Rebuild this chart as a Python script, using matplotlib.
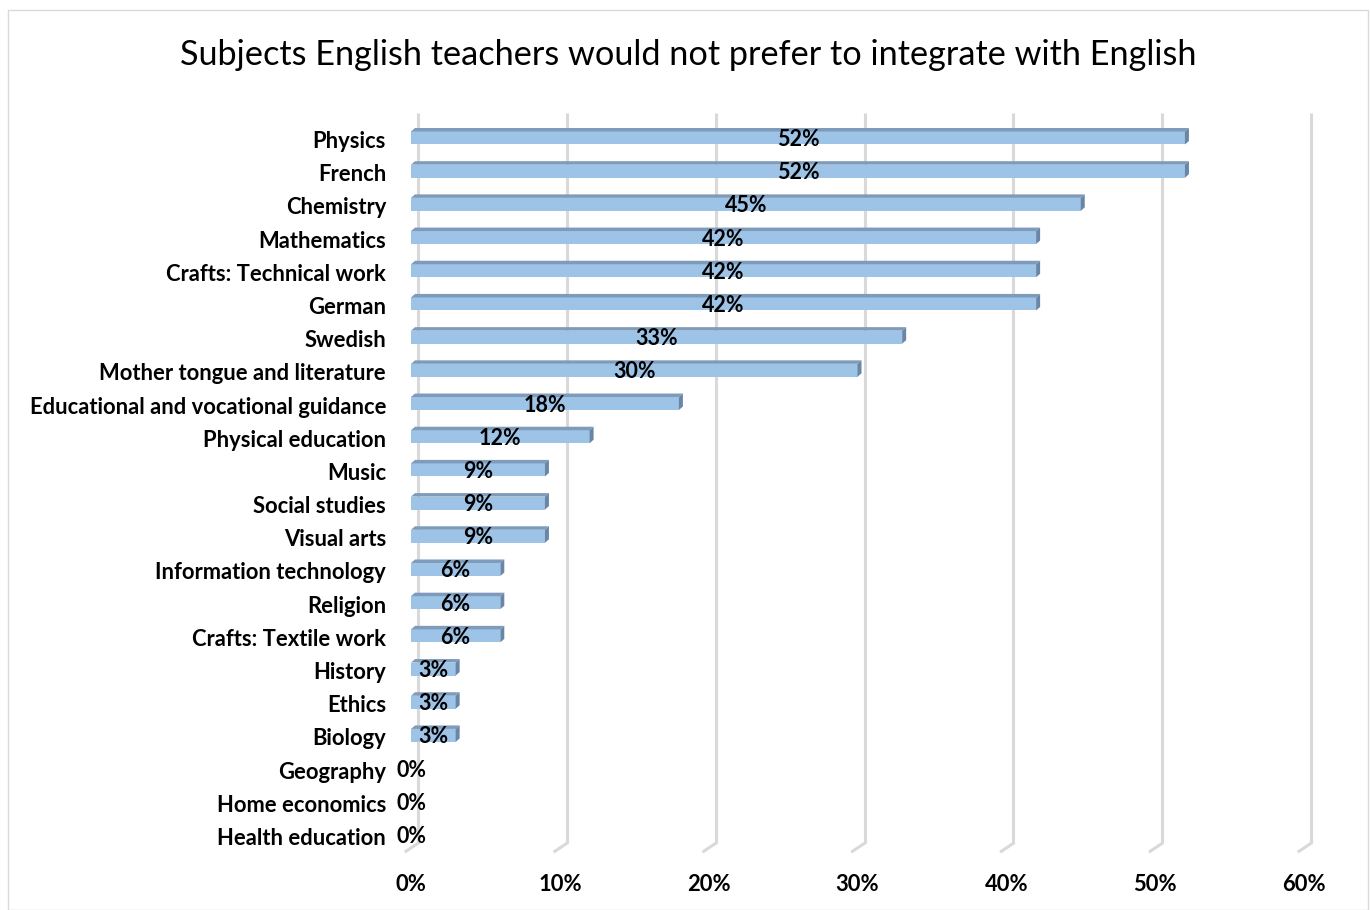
import matplotlib
matplotlib.use("Agg")
import matplotlib.pyplot as plt
from matplotlib.patches import Polygon, Rectangle
import matplotlib.transforms as mtransforms
from matplotlib.ticker import FuncFormatter

categories = ["Physics", "French", "Chemistry", "Mathematics", "Crafts: Technical work",
              "German", "Swedish", "Mother tongue and literature",
              "Educational and vocational guidance", "Physical education", "Music",
              "Social studies", "Visual arts", "Information technology", "Religion",
              "Crafts: Textile work", "History", "Ethics", "Biology", "Geography",
              "Home economics", "Health education"]
values = [52, 52, 45, 42, 42, 42, 33, 30, 18, 12, 9, 9, 9, 6, 6, 6, 3, 3, 3, 0, 0, 0]
xticks = [0, 10, 20, 30, 40, 50, 60]
title = "Subjects English teachers would not prefer to integrate with English"

FONT = "Lato"
W, H = 1371, 910
fig = plt.figure(figsize=(W / 100, H / 100), dpi=100)
ax = fig.add_axes([411 / W, 1 - 851.6 / H, (1304 - 411) / W, (851.6 - 121.4) / H])

n = len(categories)
ys = list(range(n))[::-1]
ax.set_xlim(0, 60)
ax.set_ylim(-0.5, n - 0.5)

# pixel -> data conversions
pw = (1304 - 411) / 60.0   # px per unit x
ph = (851.6 - 121.4) / n   # px per unit y
bh_px = 13.0
depth_x, depth_y = 4.0, 3.5
bh = bh_px / ph
ddx = depth_x / pw
ddy = depth_y / ph

front = "#9DC3E6"
topc = "#7F9BBB"
sidec = "#6A86A6"

# back-wall gridlines (offset to the right) and floor
off = mtransforms.ScaledTranslation(7 / 100, 0, fig.dpi_scale_trans)
for t in xticks:
    ax.plot([t, t], [-0.25, n - 0.5 + 0.25], color="#D9D9D9", lw=2.2,
            transform=ax.transData + off, zorder=1, clip_on=False, solid_capstyle="butt")
    ax.plot([t + 7 / pw, t - 5 / pw], [-0.25, -0.25 - 8 / ph], color="#D9D9D9", lw=2.2,
            zorder=1, clip_on=False)

for y, v, cat in zip(ys, values, categories):
    if v > 0:
        ax.barh(y, v, height=bh, color=front, edgecolor="none", zorder=3)
        y0, y1 = y - bh / 2, y + bh / 2
        ax.add_patch(Polygon([(0, y1), (v, y1), (v + ddx, y1 + ddy), (ddx, y1 + ddy)],
                             closed=True, facecolor=topc, edgecolor="none", zorder=3))
        ax.add_patch(Polygon([(v, y0), (v, y1), (v + ddx, y1 + ddy), (v + ddx, y0 + ddy)],
                             closed=True, facecolor=sidec, edgecolor="none", zorder=3))
    ax.annotate(f"{v}%", xy=(v / 2, y), xytext=(0, -1.5), textcoords="offset pixels",
                ha="center", va="center", fontsize=15.5, fontweight="bold",
                family=FONT, color="black", zorder=5)
    ax.annotate(cat, xy=(0, y), xytext=(-25, -3.5), textcoords="offset pixels",
                ha="right", va="center", fontsize=15.8, fontweight="bold",
                family=FONT, color="black", annotation_clip=False)

ax.set_yticks([])
ax.set_xticks(xticks)
ax.xaxis.set_major_formatter(FuncFormatter(lambda x, p: f"{int(x)}%"))
for lab in ax.get_xticklabels():
    lab.set_fontsize(15.8)
    lab.set_fontweight("bold")
    lab.set_family(FONT)
ax.tick_params(axis="both", length=0)
ax.tick_params(axis="x", pad=16)
for s in ax.spines.values():
    s.set_visible(False)
ax.set_facecolor("none")

fig.text(688 / W, 1 - 55 / H, title, ha="center", va="center", fontsize=24.7, family=FONT)
fig.add_artist(Rectangle((8 / W, 0), (1368 - 8) / W, 1 - 10 / H, transform=fig.transFigure,
                         fill=False, edgecolor="#D9D9D9", lw=1))

fig.savefig("out.png", dpi=100)
